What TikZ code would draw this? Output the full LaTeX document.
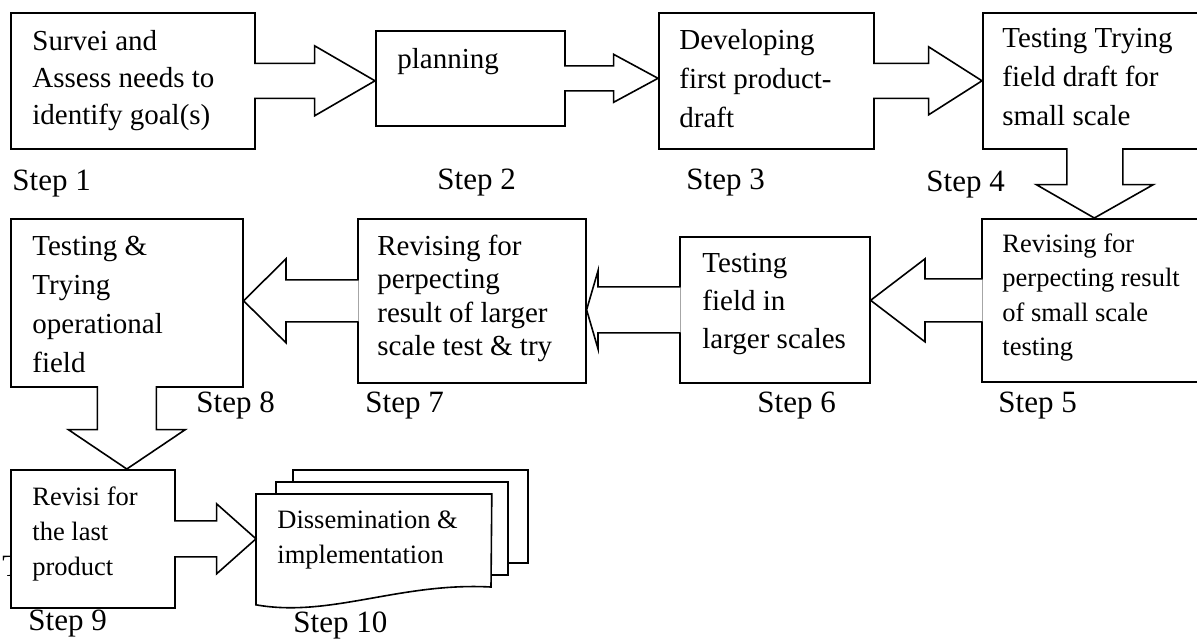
\documentclass[tikz,border=0pt]{standalone}
\usepackage{fontspec}
\setmainfont{Liberation Serif}
\usetikzlibrary{calc}
\newcommand{\topstrut}{\rule{0pt}{11pt}}

\begin{document}
\begin{tikzpicture}[x=0.5pt,y=0.5pt]
\tikzstyle{stepbox}=[draw,line width=0.8pt,fill=white,rectangle,anchor=north west,inner sep=0]
\tikzstyle{boxtext}=[anchor=north west,inner sep=0,align=left]
\tikzstyle{bigtext}=[boxtext,font=\fontsize{14.5}{19}\selectfont]
\tikzstyle{smalltext}=[boxtext,font=\fontsize{13.25}{17.5}\selectfont]
\tikzstyle{steplabel}=[anchor=base west,inner sep=0,font=\fontsize{15.5}{18}\selectfont]
\tikzstyle{fat}=[draw,line width=0.8pt,fill=white]
\tikzstyle{page}=[draw,line width=0.8pt,fill=white]

\useasboundingbox (0,0) rectangle (1197,-639);
\clip (0,0) rectangle (1197,-639);
\fill[white] (0,0) rectangle (1197,-639);

\node[steplabel] (stray) at (2,-576) {T};

\node[stepbox,minimum width=122pt,minimum height=68pt] (b1) at (10,-12) {};
\node[stepbox,minimum width=94.5pt,minimum height=47.5pt] (b2) at (375,-30) {};
\node[stepbox,minimum width=107.5pt,minimum height=68pt] (b3) at (658,-12) {};
\node[stepbox,minimum width=112pt,minimum height=68pt] (b4) at (982,-12) {};
\node[stepbox,minimum width=112.5pt,minimum height=81.5pt] (b5) at (981,-218) {};
\node[stepbox,minimum width=95pt,minimum height=73pt] (b6) at (679,-236) {};
\node[stepbox,minimum width=114pt,minimum height=82pt] (b7) at (357,-218) {};
\node[stepbox,minimum width=116pt,minimum height=84pt] (b8) at (10,-218) {};
\node[stepbox,minimum width=82pt,minimum height=69pt] (b9) at (10,-469) {};
\node[anchor=north west,inner sep=0,minimum width=117.5pt,minimum height=55pt] (b10) at (256,-494) {};

% stacked documents
\draw[page] (293,-470) rectangle (528,-563);
\draw[page] (276,-482) rectangle (508,-575);
\draw[page] (b10.north west) -- (b10.north east) -- (491,-587)
  .. controls (400,-582) and (330,-618) .. (b10.south west) -- cycle;

% block arrows
\draw[fat] ($(b1.east)+(-1.5,17.5)$) -- ++(60.5,0) -- ++(0,17.5) -- (b2.west |- b1.east)
  -- ($(b1.east)+(59,-35)$) -- ++(0,17.5) -- ++(-60.5,0);
\draw[fat] ($(b2.east)+(-1.5,12.5)$) -- ++(49.5,0) -- ++(0,11.5) -- (b3.west |- b2.east)
  -- ($(b2.east)+(48,-24)$) -- ++(0,11.5) -- ++(-49.5,0);
\draw[fat] ($(b3.east)+(-1.5,17.5)$) -- ++(55.5,0) -- ++(0,16.5) -- (b4.west |- b3.east)
  -- ($(b3.east)+(54,-34)$) -- ++(0,16.5) -- ++(-55.5,0);
\draw[fat] ($(b4.south)+(-28,1.5)$) -- ++(0,-36.5) -- ++(-30.5,0) -- (b5.north)
  -- ($(b4.south)+(58.5,-35)$) -- ++(-30.5,0) -- ++(0,36.5);
\draw[fat] ($(b5.west)+(1.5,21.5)$) -- ++(-57.5,0) -- ++(0,20) -- (b6.east |- b5.west)
  -- ($(b5.west)+(-56,-41.5)$) -- ++(0,20) -- ++(57.5,0);
\draw[fat] ($(b6.west)+(1.5,23)$) -- ++(-82.5,0) -- ++(0,16) -- (b7.east |- b6.west)
  -- ($(b6.west)+(-81,-39)$) -- ++(0,16) -- ++(82.5,0);
\draw[fat] ($(b7.west)+(1.5,21)$) -- ++(-72.5,0) -- ++(0,21) -- (b8.east |- b7.west)
  -- ($(b7.west)+(-71,-42)$) -- ++(0,21) -- ++(72.5,0);
\draw[fat] ($(b8.south)+(-29.5,1.5)$) -- ++(0,-43.5) -- ++(-29,0) -- (b8.south |- b9.north)
  -- ($(b8.south)+(58.5,-42)$) -- ++(-29,0) -- ++(0,43.5);
\draw[fat] ($(b9.east)+(-1.5,18)$) -- ++(42.5,0) -- ++(0,17) -- (b10.west |- b9.east)
  -- ($(b9.east)+(41,-35)$) -- ++(0,17) -- ++(-42.5,0);

% box texts
\node[bigtext,font=\fontsize{14.5}{18.5}\selectfont] (t1) at (32,-28) {\topstrut Survei and\\Assess needs to\\identify goal(s)};
\node[bigtext] (t2) at (397,-46) {\topstrut planning};
\node[bigtext,font=\fontsize{14.5}{19.5}\selectfont] (t3) at (679,-27) {\topstrut Developing\\first product-\\draft};
\node[bigtext,font=\fontsize{14.5}{19.5}\selectfont] (t4) at (1002,-25) {\topstrut Testing Trying\\field draft for\\small scale};
\node[smalltext,font=\fontsize{13.25}{17.25}\selectfont] (t5) at (1002,-230) {\topstrut Revising for\\perpecting result\\of small scale\\testing};
\node[bigtext] (t6) at (702,-250) {\topstrut Testing\\field in\\larger scales};
\node[bigtext,font=\fontsize{14.5}{16.75}\selectfont] (t7) at (377,-233) {\topstrut Revising for\\perpecting\\result of larger\\scale test \& try};
\node[bigtext,font=\fontsize{14.5}{19.5}\selectfont] (t8) at (32,-233) {\topstrut Testing \&\\Trying\\operational\\field};
\node[smalltext] (t9) at (32,-483) {\topstrut Revisi for\\the last\\product};
\node[smalltext] (t10) at (277,-506) {\topstrut Dissemination \&\\implementation};

% step labels
\node[steplabel] (s1) at (12,-190) {Step 1};
\node[steplabel] (s2) at (437,-189) {Step 2};
\node[steplabel] (s3) at (686,-189) {Step 3};
\node[steplabel] (s4) at (926,-191) {Step 4};
\node[steplabel] (s5) at (998,-412) {Step 5};
\node[steplabel] (s6) at (757,-412) {Step 6};
\node[steplabel] (s7) at (365,-412) {Step 7};
\node[steplabel] (s8) at (196,-412) {Step 8};
\node[steplabel] (s9) at (28,-630) {Step 9};
\node[steplabel] (s10) at (293,-632) {Step 10};
\end{tikzpicture}
\end{document}
